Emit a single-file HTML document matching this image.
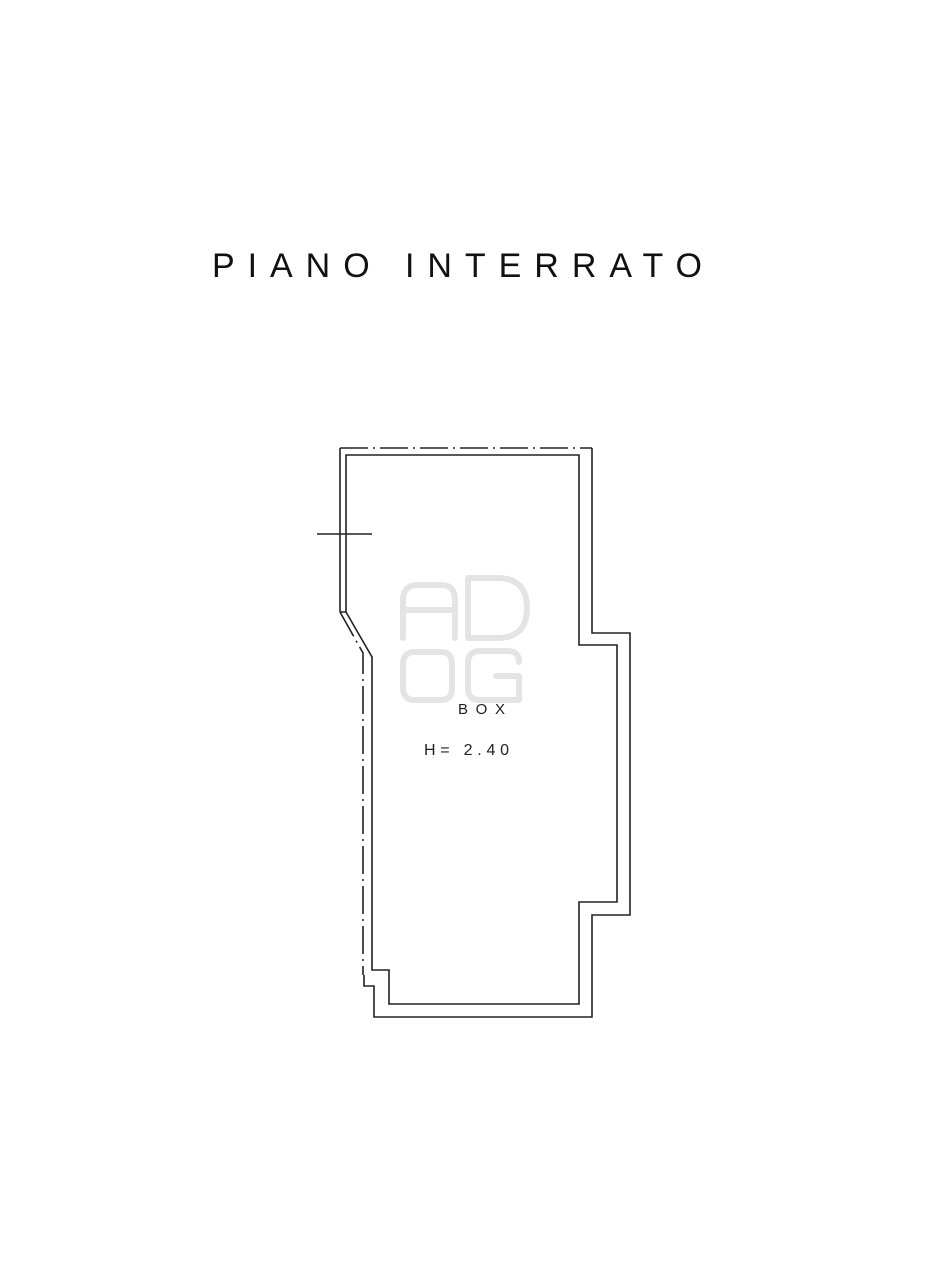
<!DOCTYPE html>
<html><head><meta charset="utf-8"><style>
html,body{margin:0;padding:0;background:#fff;}
svg{display:block;}
</style></head><body>
<svg width="930" height="1280" viewBox="0 0 930 1280" xmlns="http://www.w3.org/2000/svg">
<rect width="930" height="1280" fill="#fff"/>
<g fill="none" stroke="#e4e4e4" stroke-width="6" stroke-linecap="round" stroke-linejoin="round">
<path d="M403 638 V600 Q403 585 418 585 H441 Q455 585 455 600 V638 M403 610 H455"/>
<path d="M468 638 V578 H497 Q527 578 527 608 Q527 638 497 638 Z"/>
<path d="M403 688 Q403 700 415 700 H441 Q452 700 452 688 V664 Q452 652 441 652 H415 Q403 652 403 664 Z"/>
<path d="M519 662 Q519 651 507 651 H480 Q468 651 468 663 V688 Q468 700 480 700 H519 V676 H496"/>
</g>
<text x="212" y="277" font-family="Liberation Sans, sans-serif" font-size="34" fill="#111" textLength="490" lengthAdjust="spacing">PIANO INTERRATO</text>
<g fill="none" stroke="#222" stroke-width="1.6">
<path d="M340 612 V448"/>
<path d="M340 448 H592" stroke-dasharray="28 5 2 5"/>
<path d="M592 448 V633 H630 V915 H592 V1017 H374 V986 H364 V975"/>
<path d="M340 612 L363 653 V975" stroke-dasharray="28 5 2 5"/>
<path d="M346 612 V455 H579 V645 H617 V902 H579 V1004 H389 V970 H372 V657 L346 612 H340"/>
<path d="M317 534 H372"/>
</g>
<text x="458" y="714" font-family="Liberation Sans, sans-serif" font-size="15" fill="#222" textLength="47" lengthAdjust="spacing">BOX</text>
<text x="424" y="755" font-family="Liberation Sans, sans-serif" font-size="16" fill="#222" textLength="85" lengthAdjust="spacing">H= 2.40</text>
</svg>
</body></html>
